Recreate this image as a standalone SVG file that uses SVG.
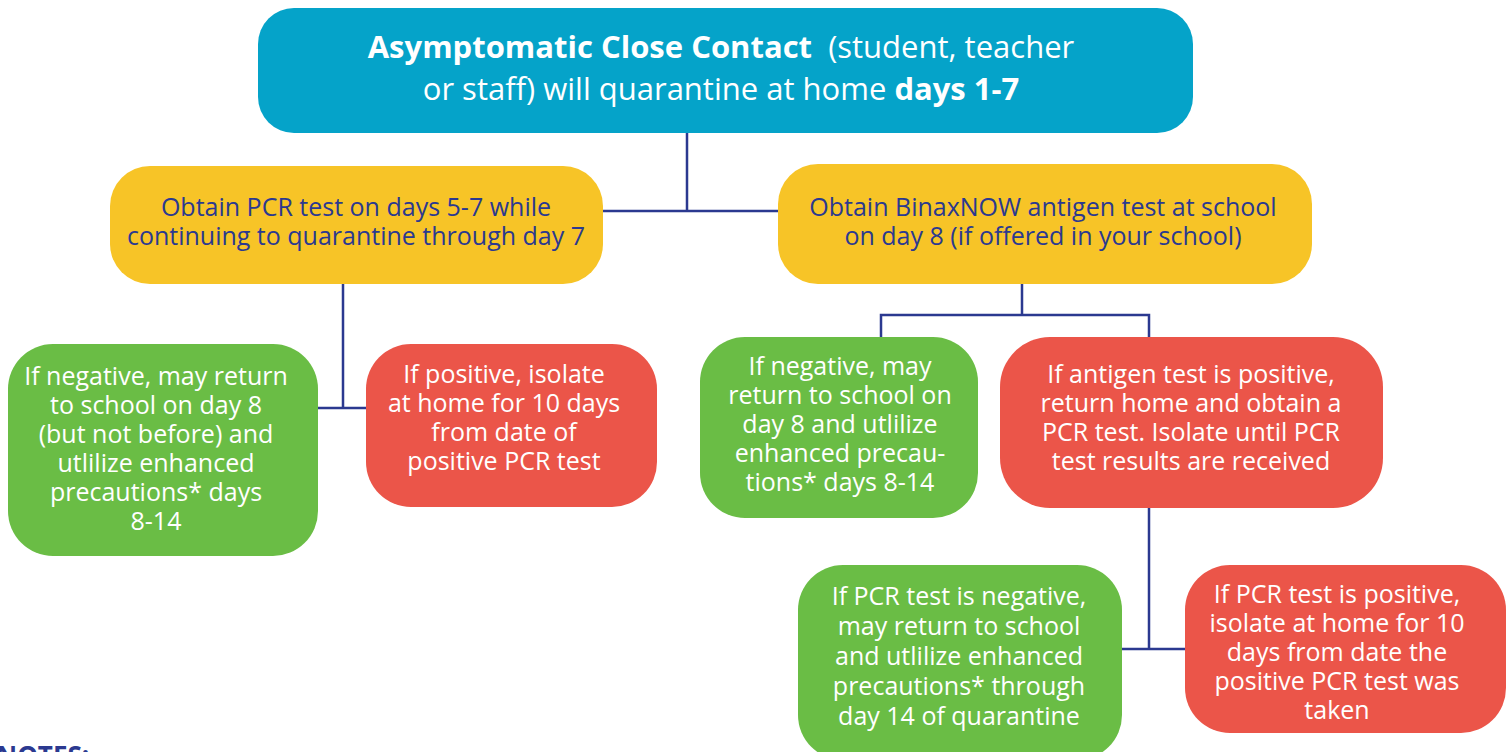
<svg xmlns="http://www.w3.org/2000/svg" width="1507" height="752" viewBox="0 0 1507 752">
<style>
text{font-family:"Open Sans","Noto Sans","Liberation Sans",sans-serif;text-anchor:middle}
.w{fill:#ffffff;font-size:25px}
.y{fill:#2b3990;font-size:25px}
.top{fill:#ffffff;font-size:31px}
.b{font-weight:bold}
.blue{fill:#05a3c9}
.yel{fill:#f7c427}
.grn{fill:#6abd45}
.red{fill:#eb5549}
.ln{stroke:#2b3990;stroke-width:2.5;fill:none}
</style>
<rect width="1507" height="752" fill="#ffffff"/>
<g id="connectors">
<path class="ln" d="M687 133V211M603 211H778"/>
<path class="ln" d="M343 284V408M318 408H367"/>
<path class="ln" d="M1022 284V315M881 337V315H1149V337"/>
<path class="ln" d="M1149 508V649M1120 649H1186"/>
</g>
<g id="top">
<rect class="blue" x="258" y="8" width="935" height="125" rx="36"/>
<text class="top" x="721" y="58"><tspan class="b">Asymptomatic Close Contact</tspan>&#160; (student, teacher</text>
<text class="top" x="721" y="100">or staff) will quarantine at home <tspan class="b">days 1-7</tspan></text>
</g>
<g id="pcr">
<rect class="yel" x="110" y="166" width="493" height="118" rx="40"/>
<text class="y" x="356" y="216">Obtain PCR test on days 5-7 while</text>
<text class="y" x="356" y="245">continuing to quarantine through day 7</text>
</g>
<g id="binax">
<rect class="yel" x="778" y="164" width="534" height="120" rx="40"/>
<text class="y" x="1043" y="216">Obtain BinaxNOW antigen test at school</text>
<text class="y" x="1043" y="245">on day 8 (if offered in your school)</text>
</g>
<g id="pcr-neg">
<rect class="grn" x="8" y="344" width="310" height="212" rx="45"/>
<text class="w" x="156" y="385">If negative, may return</text>
<text class="w" x="156" y="414">to school on day 8</text>
<text class="w" x="156" y="443">(but not before) and</text>
<text class="w" x="156" y="472">utlilize enhanced</text>
<text class="w" x="156" y="501">precautions* days</text>
<text class="w" x="156" y="530">8-14</text>
</g>
<g id="pcr-pos">
<rect class="red" x="366" y="344" width="291" height="163" rx="45"/>
<text class="w" x="504" y="383">If positive, isolate</text>
<text class="w" x="504" y="412">at home for 10 days</text>
<text class="w" x="504" y="441">from date of</text>
<text class="w" x="504" y="470">positive PCR test</text>
</g>
<g id="ag-neg">
<rect class="grn" x="700" y="337" width="278" height="181" rx="45"/>
<text class="w" x="840" y="375">If negative, may</text>
<text class="w" x="840" y="404">return to school on</text>
<text class="w" x="840" y="433">day 8 and utlilize</text>
<text class="w" x="840" y="462">enhanced precau-</text>
<text class="w" x="840" y="491">tions* days 8-14</text>
</g>
<g id="ag-pos">
<rect class="red" x="1000" y="337" width="383" height="171" rx="50"/>
<text class="w" x="1191" y="383">If antigen test is positive,</text>
<text class="w" x="1191" y="412">return home and obtain a</text>
<text class="w" x="1191" y="441">PCR test. Isolate until PCR</text>
<text class="w" x="1191" y="470">test results are received</text>
</g>
<g id="pcr2-neg">
<rect class="grn" x="798" y="565" width="324" height="195" rx="45"/>
<text class="w" x="959" y="605">If PCR test is negative,</text>
<text class="w" x="959" y="635">may return to school</text>
<text class="w" x="959" y="665">and utlilize enhanced</text>
<text class="w" x="959" y="695">precautions* through</text>
<text class="w" x="959" y="725">day 14 of quarantine</text>
</g>
<g id="pcr2-pos">
<rect class="red" x="1185" y="565" width="321" height="168" rx="45"/>
<text class="w" x="1337" y="603">If PCR test is positive,</text>
<text class="w" x="1337" y="632">isolate at home for 10</text>
<text class="w" x="1337" y="661">days from date the</text>
<text class="w" x="1337" y="690">positive PCR test was</text>
<text class="w" x="1337" y="719">taken</text>
</g>
<text x="-4" y="765" style="text-anchor:start;font-weight:bold;font-size:26px;fill:#2b3990">NOTES:</text>
</svg>
